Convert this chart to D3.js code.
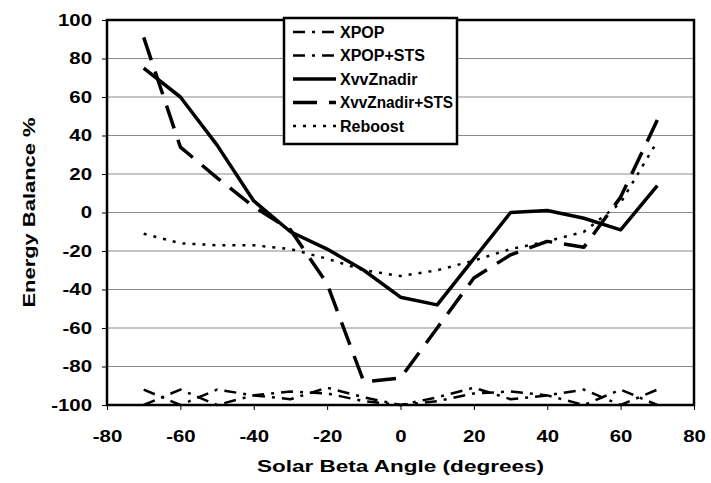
<!DOCTYPE html>
<html>
<head>
<meta charset="utf-8">
<script src="https://cdn.jsdelivr.net/npm/d3@7"></script>
<style>
  body { margin: 0; background: #fff; }
  text { font-family: Arial, "Liberation Sans", sans-serif; font-weight: bold; fill: #000; }
</style>
</head>
<body>
<svg id="chart" width="711" height="483"></svg>
<script>
// beta angles
const betaAngles = [-70, -60, -50, -40, -30, -20, -10, 0, 10, 20, 30, 40, 50, 60, 70];

const xpop = [-92, -100, -92, -95, -97, -91, -96, -100, -96, -91, -97, -95, -92, -100, -92];
const xpopSts = [-100, -92, -100, -95, -93, -94, -98, -100, -98, -94, -93, -95, -100, -92, -100];
const xvvZnadir = [75, 60, 35, 6, -10, -19, -30, -44, -48, -24, 0, 1, -3, -9, 14];
const xvvZnadirSts = [91, 34, 18, 3, -9, -37, -88, -86, -60, -34, -22, -15, -18, 8, 48];
const reboost = [-11, -16, -17, -17, -19, -24, -30, -33, -30, -25, -19, -15, -10, 5, 37];

const xTicks = [-80, -60, -40, -20, 0, 20, 40, 60, 80];
const yTicks = [-100, -80, -60, -40, -20, 0, 20, 40, 60, 80, 100];

const seriesList = [
    { name: "XPOP", values: xpop, width: 2.5, dash: "12,7,3,7" },
    { name: "XPOP+STS", values: xpopSts, width: 2.5, dash: "12,7,3,7" },
    { name: "XvvZnadir", values: xvvZnadir, width: 3.5, dash: null },
    { name: "XvvZnadir+STS", values: xvvZnadirSts, width: 3.5, dash: "24,12" },
    { name: "Reboost", values: reboost, width: 2.5, dash: "3,7" }
];

const svg = d3.select("#chart");
const plotL = 107, plotR = 694, plotT = 20, plotB = 405;

const x = d3.scaleLinear().domain([-80, 80]).range([plotL, plotR]);
const y = d3.scaleLinear().domain([-100, 100]).range([plotB, plotT]);
const fmt = d => String(d); // plain hyphen, not unicode minus

// gridlines
svg.append("g")
    .selectAll("line")
    .data(yTicks.filter(d => d > -100 && d < 100))
    .enter()
    .append("line")
    .attr("x1", plotL)
    .attr("x2", plotR)
    .attr("y1", d => y(d))
    .attr("y2", d => y(d))
    .attr("stroke", "#8a8a8a")
    .attr("stroke-width", 1);

// axes
const xAxis = svg.append("g")
    .attr("transform", `translate(0,${plotB})`)
    .call(d3.axisBottom(x).tickValues(xTicks).tickFormat(fmt).tickSize(5).tickPadding(20));
const yAxis = svg.append("g")
    .attr("transform", `translate(${plotL},0)`)
    .call(d3.axisLeft(y).tickValues(yTicks).tickFormat(fmt).tickSize(5));

[xAxis, yAxis].forEach(a => {
    a.select(".domain").remove();
    a.selectAll("line").attr("stroke", "#000").attr("stroke-width", 1);
    a.selectAll("text").style("font-size", "17px").style("font-family", "Arial, 'Liberation Sans', sans-serif").style("font-weight", "bold");
});
xAxis.selectAll("text").attr("transform", "scale(1.2,1)");
yAxis.selectAll("text").attr("x", 0).attr("transform", "translate(-15,0) scale(1.2,1)");

// plot frame
svg.append("rect")
    .attr("x", plotL)
    .attr("y", plotT)
    .attr("width", plotR - plotL)
    .attr("height", plotB - plotT)
    .attr("fill", "none")
    .attr("stroke", "#000")
    .attr("stroke-width", 2.5);

// series lines
const line = d3.line()
    .x((d, i) => x(betaAngles[i]))
    .y(d => y(d));

svg.append("g")
    .selectAll("path")
    .data(seriesList)
    .enter()
    .append("path")
    .attr("d", d => line(d.values))
    .attr("fill", "none")
    .attr("stroke", "#000")
    .attr("stroke-width", d => d.width)
    .attr("stroke-dasharray", d => d.dash)
    .attr("stroke-linejoin", "round");

// legend
const legend = svg.append("g").attr("transform", "translate(284,18)");
legend.append("rect")
    .attr("width", 173)
    .attr("height", 126)
    .attr("fill", "#fff")
    .attr("stroke", "#000")
    .attr("stroke-width", 2.5);

const entry = legend.selectAll("g.entry")
    .data(seriesList)
    .enter()
    .append("g")
    .attr("class", "entry")
    .attr("transform", (d, i) => `translate(0,${14 + i * 23.5})`);

entry.append("line")
    .attr("x1", 9)
    .attr("x2", 52)
    .attr("stroke", "#000")
    .attr("stroke-width", d => d.width)
    .attr("stroke-dasharray", d => d.dash);

entry.append("text")
    .attr("x", 56)
    .attr("dy", "0.35em")
    .style("font-size", "16px")
    .attr("textLength", d => d.name === "XvvZnadir+STS" ? 113 : null)
    .attr("lengthAdjust", "spacingAndGlyphs")
    .text(d => d.name);

// axis titles
svg.append("text")
    .attr("x", (plotL + plotR) / 2)
    .attr("y", 472)
    .attr("text-anchor", "middle")
    .attr("textLength", 287)
    .attr("lengthAdjust", "spacingAndGlyphs")
    .style("font-size", "17px")
    .text("Solar Beta Angle (degrees)");

svg.append("text")
    .attr("transform", `translate(35,${(plotT + plotB) / 2}) rotate(-90)`)
    .attr("text-anchor", "middle")
    .attr("textLength", 190)
    .attr("lengthAdjust", "spacingAndGlyphs")
    .style("font-size", "17px")
    .text("Energy Balance %");
</script>
</body>
</html>
